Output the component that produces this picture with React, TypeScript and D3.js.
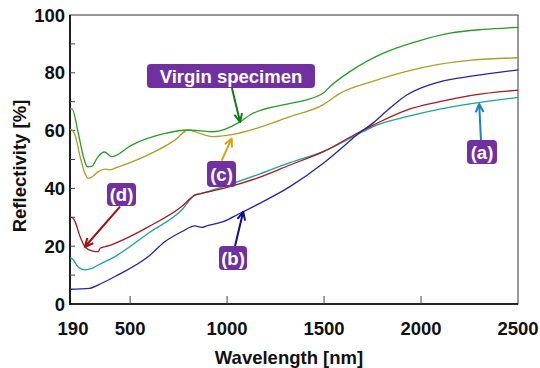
import React from 'react';
import { scaleLinear, line, curveMonotoneX } from 'd3';

type Pt = [number, number];

// wavelength (nm), reflectivity (%)
const virgin: Pt[] = [
  [190, 67.5], [200, 67.5], [233, 59], [259, 51], [280, 47.5], [302, 47.6], [330, 50.5],
  [367, 52.6], [405, 51], [508, 55], [680, 59], [800, 60.2], [850, 60], [927, 59.6],
  [1066, 63], [1118, 65.4], [1288, 68.9], [1400, 70.5], [1462, 71.8], [1500, 73.2],
  [1530, 75.2], [1633, 80.4], [1803, 86.7], [1977, 90.8], [2149, 93.7], [2319, 95], [2500, 95.7],
];
const curveC: Pt[] = [
  [190, 60.5], [200, 60.2], [216, 58.5], [242, 51], [267, 45.2], [284, 43.5], [310, 44.3],
  [336, 45.8], [370, 46.7], [396, 46.4], [422, 47], [593, 51.6], [731, 56.7], [800, 60.2],
  [860, 59], [929, 57.9], [1015, 58.5], [1152, 60.8], [1324, 64.8], [1494, 68.9],
  [1582, 72.9], [1750, 77], [1920, 80.4], [2090, 82.9], [2262, 84.4], [2500, 85.2],
];
const curveD: Pt[] = [
  [190, 30], [199, 30], [216, 28.5], [242, 23.3], [267, 19.8], [302, 18.4], [336, 18.1],
  [345, 19.3], [387, 20.1], [422, 21], [594, 26.7], [766, 33.7], [834, 37.7], [869, 38.3],
  [980, 40], [1152, 43.5], [1324, 48.1], [1496, 52.7], [1668, 59], [1753, 61.9],
  [1926, 67.1], [2097, 70], [2269, 72.3], [2500, 74],
];
const curveA: Pt[] = [
  [190, 16], [199, 15.8], [233, 12.7], [267, 11.8], [302, 12.3], [336, 13.5], [422, 16.4],
  [594, 24.5], [766, 32.5], [834, 37.7], [869, 38.3], [980, 40.6], [1152, 44.6],
  [1324, 48.9], [1496, 52.7], [1668, 58.5], [1753, 61.4], [1926, 64.8], [2097, 67.4],
  [2269, 69.4], [2500, 71.5],
];
const curveB: Pt[] = [
  [190, 5.1], [290, 5.4], [336, 6.6], [422, 9.5], [594, 16.4], [680, 21.6], [766, 25],
  [834, 27], [869, 26.5], [895, 27], [980, 28.5], [1067, 31.4], [1153, 34.3],
  [1324, 40.6], [1496, 48.7], [1600, 54.5], [1668, 58.5], [1750, 62.5], [1840, 67.8],
  [1926, 72.3], [2097, 76.9], [2269, 78.9], [2500, 81],
];

const xTicks = [190, 500, 1000, 1500, 2000, 2500];
const yTicks = [0, 20, 40, 60, 80, 100];
const yMinor = [10, 30, 50, 70, 90];

const series = [
  { id: 'a', data: curveA, color: '#1fa0a0' },
  { id: 'd', data: curveD, color: '#a81818' },
  { id: 'b', data: curveB, color: '#2424a8' },
  { id: 'c', data: curveC, color: '#a8a02a' },
  { id: 'virgin', data: virgin, color: '#2a9a2a' },
];

// label boxes (px) with arrows from/to in data units
const callouts = [
  { text: 'Virgin specimen', box: [147, 64, 168, 24], from: [1025, 74.7], to: [1067, 63], color: '#137a13' },
  { text: '(c)', box: [207, 161, 29, 26], from: [972, 49.6], to: [1024, 57.3], color: '#e0a010' },
  { text: '(d)', box: [107, 183, 29, 23], from: [448, 33.7], to: [267, 19.8], color: '#a01010' },
  { text: '(b)', box: [219, 246, 28, 24], from: [1041, 20.1], to: [1083, 31.9], color: '#101080' },
  { text: '(a)', box: [467, 140, 30, 24], from: [2309, 56.7], to: [2300, 69.2], color: '#1a80c8' },
];

const W = 540, H = 368;
const L = 70, R = 518, T = 15, B = 304;
const font = 'Arial, "Liberation Sans", sans-serif';
const fs = 18.5;

export default function App() {
  const x = scaleLinear().domain([190, 2500]).range([L, R]);
  const y = scaleLinear().domain([0, 100]).range([B, T]);
  const gen = line<Pt>().x(d => x(d[0])).y(d => y(d[1])).curve(curveMonotoneX);

  const arrow = (x1: number, y1: number, x2: number, y2: number) => {
    const a = Math.atan2(y2 - y1, x2 - x1);
    const h = 9, s = 0.45;
    const p1 = [x2 - h * Math.cos(a - s), y2 - h * Math.sin(a - s)];
    const p2 = [x2 - h * Math.cos(a + s), y2 - h * Math.sin(a + s)];
    return `M${x1},${y1}L${x2},${y2}M${p1[0]},${p1[1]}L${x2},${y2}L${p2[0]},${p2[1]}`;
  };

  return (
    <svg width={W} height={H} style={{ position: 'absolute', left: 0, top: 0, background: '#fff' }}
      fontFamily={font}>
      {/* frame */}
      <rect x={L} y={T} width={R - L} height={B - T} fill="none" stroke="#333" strokeWidth={1} />
      <line x1={L} x2={L} y1={T} y2={B + 1} stroke="#000" strokeWidth={1.6} />
      <line x1={L} x2={R} y1={B} y2={B} stroke="#000" strokeWidth={1.6} />

      {yTicks.concat(yMinor).filter(v => v > 0 && v < 100).map(v => (
        <line key={'yt' + v} x1={L} x2={L + 5} y1={y(v)} y2={y(v)} stroke="#444" strokeWidth={1} />
      ))}
      {xTicks.filter(v => v > 190 && v < 2500).map(v => (
        <line key={'xt' + v} x1={x(v)} x2={x(v)} y1={B} y2={B - 8} stroke="#444" strokeWidth={1} />
      ))}

      {yTicks.map(v => (
        <text key={'yl' + v} x={L - 5} y={y(v)} dy="0.36em" textAnchor="end"
          fontSize={fs} fontWeight="bold" fill="#111">{v}</text>
      ))}
      {xTicks.map(v => (
        <text key={'xl' + v} x={v === 190 ? x(v) + 3 : x(v)} y={328} dy="0.36em" textAnchor="middle"
          fontSize={fs} fontWeight="bold" fill="#111">{v}</text>
      ))}

      <text x={289} y={357} dy="0.36em" textAnchor="middle" fontSize={fs} fontWeight="bold" fill="#111">
        Wavelength [nm]
      </text>
      <text transform="translate(19,166) rotate(-90)" dy="0.36em" textAnchor="middle"
        fontSize={fs} fontWeight="bold" fill="#111">
        Reflectivity [%]
      </text>

      {series.map(s => (
        <path key={s.id} d={gen(s.data) || ''} fill="none" stroke={s.color} strokeWidth={1.3} />
      ))}

      {callouts.map(c => {
        const [bx, by, bw, bh] = c.box;
        return (
          <g key={c.text}>
            <path d={arrow(x(c.from[0]), y(c.from[1]), x(c.to[0]), y(c.to[1]))}
              fill="none" stroke={c.color} strokeWidth={2} strokeLinejoin="round" />
            <rect x={bx} y={by} width={bw} height={bh} rx={4} fill="#7030a0" />
            <text x={bx + bw / 2} y={by + bh / 2} dy="0.36em" textAnchor="middle"
              fontSize={fs} fontWeight="bold" fill="#fff">{c.text}</text>
          </g>
        );
      })}
    </svg>
  );
}
